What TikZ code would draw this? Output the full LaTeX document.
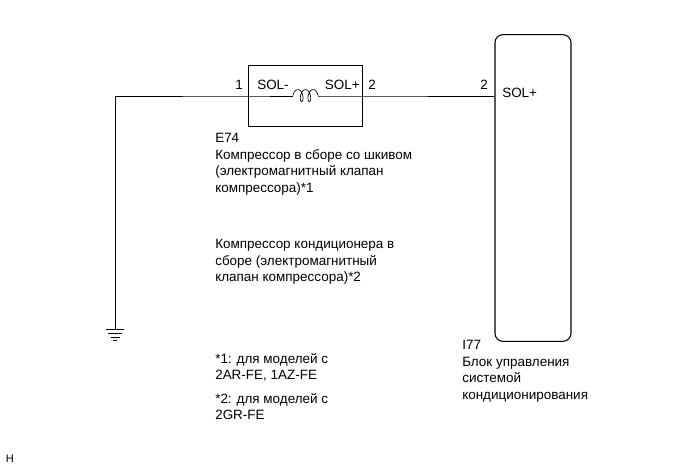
\documentclass[tikz,border=0pt]{standalone}
\usepackage{fontspec}
\setmainfont{Liberation Sans}
\usetikzlibrary{positioning}
\tikzset{
  wire/.style={line width=0.5pt},
  txt/.style={inner sep=0pt,font=\fontsize{10.1pt}{12.4pt}\selectfont,align=left,anchor=north west},
  pin/.style={inner sep=0pt,font=\fontsize{10.1pt}{10pt}\selectfont},
}
\begin{document}
\begin{tikzpicture}[x=0.75pt,y=-0.75pt]
  \useasboundingbox (0,0) rectangle (689,468);
  \node [draw,line width=0.8pt,minimum width=85.5pt,minimum height=45.8pt,inner sep=0pt] (sol) at (305.3,96) {};
  \node [draw,line width=0.8pt,rounded corners=6pt,minimum width=57pt,minimum height=230pt,inner sep=0pt] (ecu) at (533,188) {};
  % pins
  \node [pin,anchor=west] (solm) at (257,85) {SOL-};
  \node [pin,anchor=east] (solp) at (360,85) {SOL+};
  \node [pin,anchor=west] (ecup) at (502,93) {SOL+};
  \node [pin] (p1) at (239,85) {1};
  \node [pin] (p2) at (372,85) {2};
  \node [pin] (p3) at (484,85) {2};
  % wires
  \coordinate (gnd) at (115,329);
  \coordinate (cl) at (293,96);
  \coordinate (cr) at (318,96);
  \draw [wire] (cl) -- (sol.west) -- (sol.west -| gnd) -- (gnd);
  \draw [wire] (cr) -- (sol.east) -- (sol.east -| ecu.west);
  \draw [wire] plot [domain=-90:810,samples=90,smooth,variable=\t]
    ({305.5+9.5*(\t-360)/450+3*sin(\t)},{95.6-6*cos(\t)});
  % ground
  \draw [wire] (gnd) ++(-9,0) -- ++(18,0);
  \draw [wire] (gnd) ++(-7,4) -- ++(14,0);
  \draw [wire] (gnd) ++(-4.5,8) -- ++(9,0);
  \draw [wire] (gnd) ++(-2,11.5) -- ++(4,0);
  % labels
  \node [txt] (e74) at (215,133) {E74\\Компрессор в сборе со шкивом\\(электромагнитный клапан\\компрессора)*1};
  \node [txt] (comp) at (215,239) {Компрессор кондиционера в\\сборе (электромагнитный\\клапан компрессора)*2};
  \node [txt] (n1) at (215,353) {*1: для моделей с\\2AR-FE, 1AZ-FE};
  \node [txt] (n2) at (215,393) {*2: для моделей с\\2GR-FE};
  \node [txt] (i77) at (462,340) {I77\\Блок управления\\системой\\кондиционирования};
  \node [pin,anchor=west,font=\fontsize{8.3pt}{9pt}\selectfont] (h) at (5.5,459) {H};
\end{tikzpicture}
\end{document}
